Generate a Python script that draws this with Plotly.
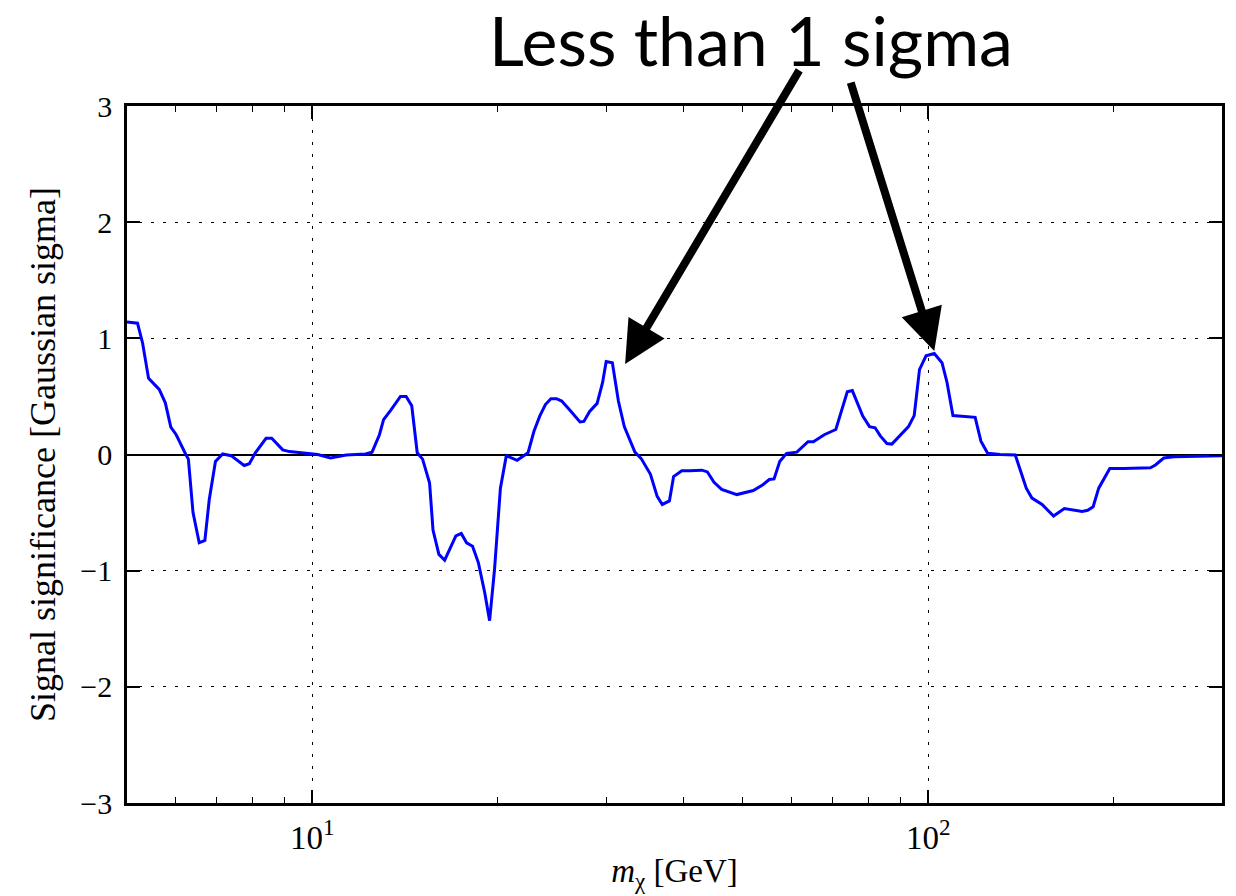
import math
import plotly.graph_objects as go

# ---- data ----
mass_gev = [5.0, 5.2, 5.3, 5.42, 5.64, 5.77, 5.89, 6.01, 6.23, 6.29,
            6.40, 6.55, 6.69, 6.80, 6.96, 7.15, 7.38, 7.75, 7.90, 8.08,
            8.41, 8.59, 8.95, 9.18, 9.77, 10.2, 10.7, 11.35, 12.2, 12.5,
            12.85, 13.05, 13.4, 13.9, 14.2, 14.5, 14.8, 15.1, 15.5, 15.7,
            16.05, 16.4, 17.1, 17.45, 17.8, 18.2, 18.6, 19.05, 19.4, 19.76,
            20.2, 20.65, 21.5, 22.4, 22.9, 23.4, 23.9, 24.4, 24.9, 25.4,
            26.2, 27.2, 27.6, 28.2, 29.0, 29.6, 30.0, 30.7, 31.4, 32.1,
            33.4, 34.2, 35.4, 36.3, 37.0, 38.0, 38.6, 39.8, 41.0, 42.9,
            43.8, 44.9, 46.2, 48.9, 52.0, 53.9, 55.2, 56.2, 57.4, 58.9,
            61.2, 63.8, 65.1, 67.8, 70.8, 72.4, 73.9, 75.3, 78.3, 80.3,
            82.0, 83.6, 85.7, 87.3, 90.1, 92.9, 94.9, 96.8, 99.2, 102.3,
            105.3, 107.3, 109.7, 114.8, 119.2, 121.8, 124.9, 130.9, 138.5, 144.3,
            147.4, 153.1, 159.8, 166.4, 172.3, 177.8, 181.6, 185.3, 189.2, 197.2,
            207.8, 221.2, 229.6, 233.9, 241.3, 250.6, 300.0]

significance = [1.14, 1.13, 0.96, 0.655, 0.56, 0.445, 0.235, 0.17, 0.0, -0.04,
                -0.50, -0.76, -0.74, -0.39, -0.06, 0.005, -0.01, -0.095, -0.08, 0.015,
                0.14, 0.14, 0.04, 0.025, 0.01, 0.0, -0.03, -0.005, 0.005, 0.02,
                0.17, 0.30, 0.38, 0.50, 0.50, 0.42, 0.015, -0.04, -0.245, -0.65,
                -0.86, -0.91, -0.70, -0.68, -0.76, -0.79, -0.93, -1.19, -1.43, -0.99,
                -0.29, -0.01, -0.05, 0.015, 0.20, 0.33, 0.43, 0.48, 0.48, 0.46,
                0.38, 0.28, 0.285, 0.37, 0.44, 0.62, 0.80, 0.79, 0.46, 0.24,
                0.02, -0.035, -0.17, -0.36, -0.43, -0.40, -0.19, -0.14, -0.14, -0.135,
                -0.15, -0.24, -0.30, -0.345, -0.31, -0.26, -0.215, -0.21, -0.06, 0.01,
                0.02, 0.11, 0.11, 0.17, 0.215, 0.39, 0.54, 0.55, 0.33, 0.24,
                0.23, 0.16, 0.095, 0.09, 0.165, 0.24, 0.335, 0.73, 0.85, 0.87,
                0.79, 0.62, 0.335, 0.325, 0.32, 0.115, 0.01, 0.0, -0.005, -0.29,
                -0.375, -0.43, -0.53, -0.465, -0.48, -0.49, -0.48, -0.45, -0.29, -0.12,
                -0.12, -0.12, -0.115, -0.09, -0.03, -0.02, -0.01]

x_range = [5.0, 300.0]
y_range = [-3, 3]
x_major_ticks = [10, 100]
x_major_labels = ["10<sup>1</sup>", "10<sup>2</sup>"]
x_minor_ticks = [6, 7, 8, 9, 20, 30, 40, 50, 60, 70, 80, 90, 200, 300]
y_ticks = [-3, -2, -1, 0, 1, 2, 3]

title_text = "Less than 1 sigma"
# arrow tips (mass in GeV, significance)
arrow_tips = [(32.2, 0.78), (102.3, 0.89)]
# arrow tail offsets in pixels relative to the tips
arrow_tails = [(175, -295), (-84, -270)]

SERIF = "Liberation Serif, Times New Roman, serif"

fig = go.Figure()
fig.add_trace(go.Scatter(x=mass_gev, y=significance, mode="lines",
                         line=dict(color="#0000ff", width=3), showlegend=False))

axis_common = dict(
    showline=True, linecolor="black", linewidth=2.5, mirror="allticks",
    ticks="inside", tickcolor="black", tickwidth=1.5, ticklen=13,
    showgrid=True, gridcolor="black", gridwidth=1.3, griddash="3px,9px",
)

fig.update_xaxes(
    type="log", range=[math.log10(x_range[0]), math.log10(x_range[1])],
    tickmode="array", tickvals=x_major_ticks, ticktext=x_major_labels,
    tickfont=dict(family=SERIF, size=33, color="black"),
    minor=dict(tickmode="array", tickvals=x_minor_ticks, ticks="inside",
               ticklen=6, tickwidth=1.2, tickcolor="black", showgrid=False),
    title=dict(text="<i>m</i><sub>χ</sub> [GeV]",
               font=dict(family=SERIF, size=33, color="black"), standoff=4),
    ticklabelstandoff=4,
    zeroline=False,
    **axis_common,
)
fig.update_yaxes(
    range=y_range, tickmode="array", tickvals=y_ticks,
    tickfont=dict(family=SERIF, size=30, color="black"),
    title=dict(text="Signal significance [Gaussian sigma]",
               font=dict(family=SERIF, size=36, color="black"), standoff=14),
    ticklabelstandoff=6,
    zeroline=True, zerolinecolor="black", zerolinewidth=2,
    **axis_common,
)

annotations = []
for (tx, ty), (ax, ay) in zip(arrow_tips, arrow_tails):
    annotations.append(dict(
        x=math.log10(tx), y=ty, xref="x", yref="y",
        ax=ax, ay=ay, axref="pixel", ayref="pixel",
        text="", showarrow=True, arrowhead=2, arrowsize=1.05,
        arrowwidth=8, arrowcolor="black",
    ))

fig.update_layout(
    width=1236, height=896,
    margin=dict(l=127, r=14, t=106, b=93),
    plot_bgcolor="white", paper_bgcolor="white",
    title=dict(text=title_text, x=751 / 1236, xanchor="center",
               y=1 - 42 / 896, yanchor="middle",
               font=dict(family="Lato, Open Sans, sans-serif", size=68, color="black")),
    annotations=annotations,
)

fig.write_html("out.html",
               config={"displayModeBar": False},
               post_script="document.body.style.margin='0';document.body.style.overflow='hidden';")
